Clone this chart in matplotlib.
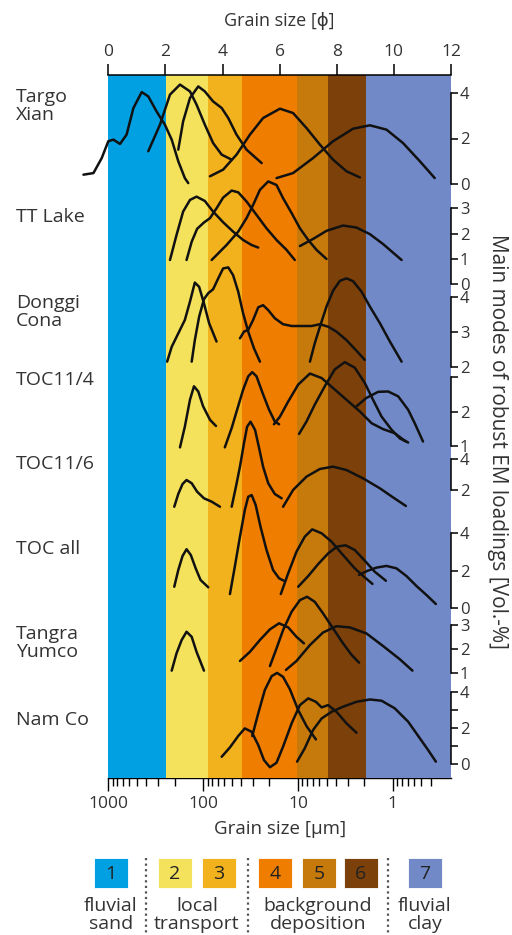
import matplotlib.pyplot as plt
from matplotlib.patches import Rectangle

plt.rcParams['font.family'] = ['Open Sans', 'DejaVu Sans']

# grain-size classes (phi boundaries) and their colours
class_edges = [0, 2.02, 3.48, 4.67, 6.6, 7.7, 9.02, 12]
class_colors = ['#00a0e2', '#f4e25c', '#f2b21e', '#ee7d00', '#c77a0c', '#7c400a', '#7189c7']
class_numbers = ['1', '2', '3', '4', '5', '6', '7']
class_groups = ['fluvial\nsand', 'local\ntransport', 'background\ndeposition', 'fluvial\nclay']

um_major = [1000, 100, 10, 1]
um_minor = [900, 800, 700, 600, 500, 400, 300, 200,
            90, 80, 70, 60, 50, 40, 30, 20,
            9, 8, 7, 6, 5, 4, 3, 2,
            0.9, 0.8, 0.7, 0.6, 0.5, 0.4]

# end-member loadings per site: (phi, vol.-%)
targo_xian = [
    ([-0.87, -0.52, -0.23, 0.0, 0.18, 0.41, 0.64, 0.88, 1.17, 1.40, 1.69, 1.98, 2.22, 2.45, 2.68, 2.80],
     [0.41, 0.48, 1.14, 1.88, 1.95, 1.76, 2.17, 3.34, 4.04, 3.85, 3.19, 2.61, 1.95, 1.0, 0.26, 0.04]),
    ([1.40, 1.81, 2.16, 2.51, 2.86, 3.09, 3.38, 3.67, 3.97, 4.32],
     [1.44, 2.61, 3.93, 4.37, 4.07, 3.49, 2.61, 1.80, 1.29, 1.07]),
    ([2.45, 2.62, 2.86, 3.15, 3.38, 3.67, 3.97, 4.20, 4.49, 4.84, 5.37],
     [1.51, 2.75, 3.78, 4.29, 4.07, 3.63, 3.34, 2.90, 2.17, 1.51, 0.92]),
    ([3.56, 4.02, 4.49, 4.96, 5.42, 6.01, 6.47, 6.94, 7.41, 7.87, 8.34, 8.81],
     [0.34, 0.63, 1.29, 2.17, 2.90, 3.31, 3.12, 2.46, 1.73, 1.07, 0.56, 0.29]),
    ([5.89, 6.47, 7.17, 7.87, 8.57, 9.16, 9.74, 10.32, 10.91, 11.43],
     [0.26, 0.48, 1.14, 1.88, 2.43, 2.58, 2.39, 1.80, 1.0, 0.26]),
]

tt_lake = [
    ([2.16, 2.39, 2.62, 2.86, 3.09, 3.38, 3.67, 4.02, 4.37, 4.72, 5.02, 5.25],
     [0.96, 1.95, 2.87, 3.33, 3.46, 3.29, 2.87, 2.45, 2.08, 1.75, 1.55, 1.45]),
    ([2.74, 2.92, 3.11, 3.35, 3.56, 3.79, 4.02, 4.32, 4.55, 4.84, 5.19, 5.54, 5.89, 6.24, 6.53],
     [0.96, 1.68, 2.19, 2.44, 2.61, 3.0, 3.42, 3.70, 3.63, 3.27, 2.74, 2.21, 1.75, 1.36, 0.96]),
    ([3.62, 4.14, 4.55, 4.84, 5.07, 5.31, 5.60, 5.89, 6.12, 6.42, 6.71, 7.0, 7.29, 7.64],
     [0.96, 1.55, 2.08, 2.61, 3.13, 3.73, 4.06, 3.92, 3.40, 2.81, 2.21, 1.75, 1.36, 1.0]),
    ([6.71, 7.17, 7.64, 8.22, 8.69, 9.16, 9.62, 9.97, 10.27],
     [1.51, 1.79, 2.11, 2.32, 2.24, 1.98, 1.59, 1.25, 0.96]),
]

donggi_cona = [
    ([2.06, 2.22, 2.45, 2.68, 2.86, 3.03, 3.18, 3.35, 3.53, 3.79],
     [2.16, 2.58, 2.96, 3.34, 3.86, 4.40, 4.28, 3.81, 3.25, 2.73]),
    ([2.92, 3.03, 3.18, 3.35, 3.50, 3.67, 3.85, 4.02, 4.20, 4.37, 4.55, 4.72, 4.90, 5.10, 5.31],
     [2.16, 2.77, 3.43, 3.93, 4.10, 4.21, 4.52, 4.80, 4.83, 4.61, 4.14, 3.53, 3.01, 2.54, 2.16]),
    ([4.61, 4.75, 4.90, 5.07, 5.25, 5.42, 5.60, 5.83, 6.12, 6.42, 6.77, 7.12, 7.41, 7.70, 7.99, 8.34, 8.69, 8.98],
     [2.82, 3.01, 3.06, 3.34, 3.70, 3.76, 3.62, 3.39, 3.22, 3.17, 3.17, 3.17, 3.22, 3.15, 3.01, 2.77, 2.47, 2.21]),
    ([7.06, 7.23, 7.41, 7.64, 7.87, 8.11, 8.34, 8.57, 8.87, 9.16, 9.51, 9.86, 10.27],
     [2.16, 2.68, 3.15, 3.72, 4.17, 4.45, 4.52, 4.44, 4.14, 3.72, 3.25, 2.73, 2.16]),
]

toc11_4 = [
    ([2.51, 2.68, 2.86, 3.0, 3.15, 3.32, 3.56, 3.77],
     [0.96, 1.56, 2.34, 2.73, 2.58, 2.15, 1.76, 1.58]),
    ([4.08, 4.32, 4.51, 4.72, 4.90, 5.04, 5.19, 5.40, 5.63, 5.83, 5.98],
     [0.96, 1.52, 2.05, 2.63, 3.02, 3.14, 3.02, 2.54, 2.05, 1.71, 1.63]),
    ([5.80, 6.01, 6.30, 6.65, 7.06, 7.47, 7.87, 8.34, 8.81, 9.22, 9.62, 10.03, 10.32, 10.50],
     [1.63, 1.85, 2.29, 2.78, 3.10, 2.97, 2.68, 2.34, 2.0, 1.66, 1.49, 1.37, 1.19, 1.10]),
    ([6.68, 6.94, 7.23, 7.58, 7.93, 8.28, 8.63, 8.98, 9.27, 9.57, 9.92, 10.21, 10.42],
     [1.35, 1.71, 2.20, 2.73, 3.22, 3.43, 3.27, 2.83, 2.34, 1.85, 1.47, 1.22, 1.13]),
    ([8.69, 9.03, 9.45, 9.80, 10.15, 10.50, 10.73, 11.02],
     [2.15, 2.39, 2.57, 2.58, 2.44, 2.05, 1.66, 1.13]),
]

toc11_6 = [
    ([2.31, 2.45, 2.60, 2.74, 2.92, 3.11, 3.35, 3.62, 3.91],
     [0.91, 1.74, 2.39, 2.65, 2.44, 1.89, 1.46, 1.24, 0.91]),
    ([4.32, 4.47, 4.61, 4.75, 4.86, 4.98, 5.14, 5.27, 5.42, 5.60, 5.83, 6.07],
     [0.91, 2.22, 3.52, 5.04, 6.12, 6.45, 5.91, 4.82, 3.52, 2.44, 1.74, 1.46]),
    ([6.12, 6.47, 6.94, 7.41, 7.87, 8.34, 8.92, 9.51, 9.97, 10.42],
     [0.91, 2.0, 2.87, 3.37, 3.52, 3.30, 2.76, 2.11, 1.52, 0.96]),
]

toc_all = [
    ([2.31, 2.45, 2.60, 2.74, 2.89, 3.06, 3.23, 3.50],
     [1.15, 2.04, 2.79, 3.15, 2.84, 2.13, 1.51, 1.12]),
    ([4.26, 4.43, 4.61, 4.78, 4.90, 5.02, 5.16, 5.33, 5.54, 5.77, 5.98, 6.15],
     [0.76, 2.22, 3.82, 5.24, 5.95, 6.04, 5.51, 4.35, 3.11, 2.04, 1.60, 1.47]),
    ([6.04, 6.30, 6.59, 6.88, 7.14, 7.47, 7.82, 8.22, 8.63, 8.98, 9.25],
     [0.76, 1.87, 3.02, 3.82, 4.21, 4.0, 3.55, 2.84, 2.13, 1.65, 1.30]),
    ([6.65, 7.0, 7.35, 7.70, 8.01, 8.31, 8.63, 8.98, 9.33, 9.72],
     [1.15, 1.72, 2.36, 2.93, 3.29, 3.36, 3.11, 2.54, 1.95, 1.47]),
    ([8.78, 9.06, 9.39, 9.74, 10.09, 10.44, 10.79, 11.14, 11.47],
     [1.78, 1.99, 2.17, 2.26, 2.13, 1.72, 1.19, 0.71, 0.23]),
]

tangra_yumco = [
    ([2.22, 2.39, 2.57, 2.74, 2.92, 3.09, 3.35],
     [1.11, 1.83, 2.38, 2.72, 2.51, 1.89, 1.11]),
    ([4.61, 4.96, 5.31, 5.66, 5.98, 6.30, 6.59, 6.85],
     [1.51, 1.89, 2.38, 2.82, 3.07, 2.90, 2.51, 2.24]),
    ([5.66, 5.89, 6.12, 6.42, 6.71, 6.96, 7.23, 7.52, 7.87, 8.22, 8.52, 8.78],
     [1.30, 2.03, 2.79, 3.55, 4.03, 4.17, 3.96, 3.48, 2.86, 2.24, 1.76, 1.44]),
    ([6.22, 6.59, 7.06, 7.52, 7.99, 8.46, 9.04, 9.62, 10.21, 10.65],
     [1.14, 1.51, 2.17, 2.69, 2.95, 2.90, 2.65, 2.13, 1.58, 1.11]),
]

nam_co = [
    ([3.97, 4.26, 4.55, 4.78, 5.02, 5.25, 5.45, 5.66, 5.89, 6.12, 6.42, 6.71, 7.0, 7.27, 7.47, 7.70, 7.99, 8.34, 8.69],
     [0.40, 0.92, 1.55, 1.97, 1.78, 1.05, 0.22, -0.18, 0.07, 0.96, 2.25, 3.26, 3.63, 3.44, 3.13, 3.26, 2.89, 2.25, 1.73]),
    ([5.04, 5.25, 5.48, 5.72, 5.91, 6.12, 6.36, 6.65, 6.94, 7.27],
     [1.55, 2.80, 4.09, 4.86, 5.04, 4.82, 4.13, 2.98, 2.10, 1.36]),
    ([6.61, 6.88, 7.17, 7.47, 7.82, 8.22, 8.69, 9.16, 9.57, 10.03, 10.50, 10.91, 11.20, 11.47],
     [0.13, 0.87, 1.88, 2.52, 2.89, 3.17, 3.44, 3.57, 3.50, 3.08, 2.34, 1.42, 0.77, 0.13]),
]

sites = ['Targo\nXian', 'TT Lake', 'Donggi\nCona', 'TOC11/4', 'TOC11/6', 'TOC all', 'Tangra\nYumco', 'Nam Co']
site_curves = [targo_xian, tt_lake, donggi_cona, toc11_4, toc11_6, toc_all, tangra_yumco, nam_co]
site_ylims = [(0, 4), (0, 3), (2, 4), (1, 3), (2, 4), (0, 4), (1, 3), (0, 4)]
site_ticks = [[0, 2, 4], [0, 1, 2, 3], [2, 3, 4], [1, 2, 3], [2, 4], [0, 2, 4], [1, 2, 3], [0, 1, 2, 3, 4]]
site_ticklabels = [['0', '2', '4'], ['0', '1', '2', '3'], ['2', '3', '4'], ['1', '2', ''],
                   ['2', '4'], ['0', '2', '4'], ['1', '2', '3'], ['0', '', '2', '', '4']]

# layout in pixels (figure is 512 x 935)
W, H = 512, 935
PLOT_X0, PLOT_X1, PLOT_Y0, PLOT_Y1 = 108.3, 451.0, 75.0, 778.0
site_px = [(93, 184), (208.3, 284.3), (296.7, 367.3), (377, 446),
           (459.3, 490), (533.3, 608.3), (625, 673.3), (691.7, 764)]
label_py = [106, 217, 312, 380, 464, 549, 643, 720]
TEXT = '#333333'


def box(x0, y0, x1, y1):
    return [x0 / W, 1 - y1 / H, (x1 - x0) / W, (y1 - y0) / H]


def phi_to_um(phi):
    return 1000.0 * 2.0 ** (-phi)


def um_to_phi(um):
    import numpy as np
    return -np.log2(np.asarray(um, dtype=float) / 1000.0)


fig = plt.figure(figsize=(W / 100, H / 100), dpi=100)

# background with class bands, phi axis on top
ax = fig.add_axes(box(PLOT_X0, PLOT_Y0, PLOT_X1, PLOT_Y1))
for i, c in enumerate(class_colors):
    ax.axvspan(class_edges[i], class_edges[i + 1], color=c, lw=0)
ax.set_xlim(0, 12)
ax.set_ylim(0, 1)
ax.set_yticks([])
for s in ['left', 'right', 'bottom']:
    ax.spines[s].set_visible(False)
ax.spines['top'].set_linewidth(1.1)
ax.xaxis.tick_top()
ax.set_xticks(range(0, 13, 2))
ax.tick_params(axis='x', direction='out', length=8, width=1.1, pad=3,
               labelsize=12.5, labelcolor=TEXT)
ax.xaxis.set_label_position('top')
ax.set_xlabel('Grain size [ϕ]', fontsize=13, color=TEXT, labelpad=13)

# µm axis at the bottom
sec = ax.secondary_xaxis('bottom', functions=(phi_to_um, um_to_phi))
sec.set_xticks(um_major)
sec.set_xticklabels(['1000', '100', '10', '1'])
sec.set_xticks(um_minor, minor=True)
sec.tick_params(which='major', direction='out', length=9, width=1.0, pad=4,
                labelsize=12.5, labelcolor=TEXT)
sec.tick_params(which='minor', direction='out', length=6, width=1.0)
sec.spines['bottom'].set_linewidth(1.0)
sec.set_xlabel('Grain size [µm]', fontsize=13.5, color=TEXT, labelpad=6)

# one transparent axis per site with its own loading scale
for name, curves, ylim, ticks, tlabels, (py0, py1), ly in zip(
        sites, site_curves, site_ylims, site_ticks, site_ticklabels, site_px, label_py):
    sax = fig.add_axes(box(PLOT_X0, py0, PLOT_X1, py1))
    sax.patch.set_alpha(0)
    sax.set_xlim(0, 12)
    sax.set_ylim(*ylim)
    sax.set_xticks([])
    for s in ['left', 'top', 'bottom']:
        sax.spines[s].set_visible(False)
    sax.spines['right'].set_linewidth(1.1)
    sax.yaxis.tick_right()
    sax.set_yticks(ticks)
    sax.set_yticklabels(tlabels)
    sax.tick_params(axis='y', direction='out', length=5, width=1.1, pad=1.5,
                    labelsize=12, labelcolor=TEXT)
    for phi, val in curves:
        sax.plot(phi, val, color='#111111', lw=1.8, clip_on=False,
                 solid_capstyle='round', solid_joinstyle='round')
    fig.text(16 / W, 1 - ly / H, name, fontsize=14, color=TEXT,
             ha='left', va='center', linespacing=0.95)

fig.text(497 / W, 1 - 441 / H, 'Main modes of robust EM loadings [Vol.-%]',
         rotation=-90, fontsize=15, color=TEXT, ha='center', va='center')

# class legend below the plot
lax = fig.add_axes([0, 0, 1, 1])
lax.set_xlim(0, W)
lax.set_ylim(H, 0)
lax.axis('off')
square_x = [94, 158, 202, 258, 302, 344, 408]
for x, c, n in zip(square_x, class_colors, class_numbers):
    lax.add_patch(Rectangle((x, 858), 34, 30, facecolor=c, edgecolor='white', lw=0.6))
    lax.text(x + 17, 874, n, fontsize=14, color='#222222', ha='center', va='center')
group_x = [111, 197, 318, 425]
for x, t in zip(group_x, class_groups):
    lax.text(x, 915, t, fontsize=14, color=TEXT, ha='center', va='center', linespacing=1.0)
for x in [146, 248, 388]:
    lax.plot([x, x], [858, 935], color='#555555', lw=1.6, ls=(0, (1, 1.5)))

fig.savefig('out.png', dpi=100)
